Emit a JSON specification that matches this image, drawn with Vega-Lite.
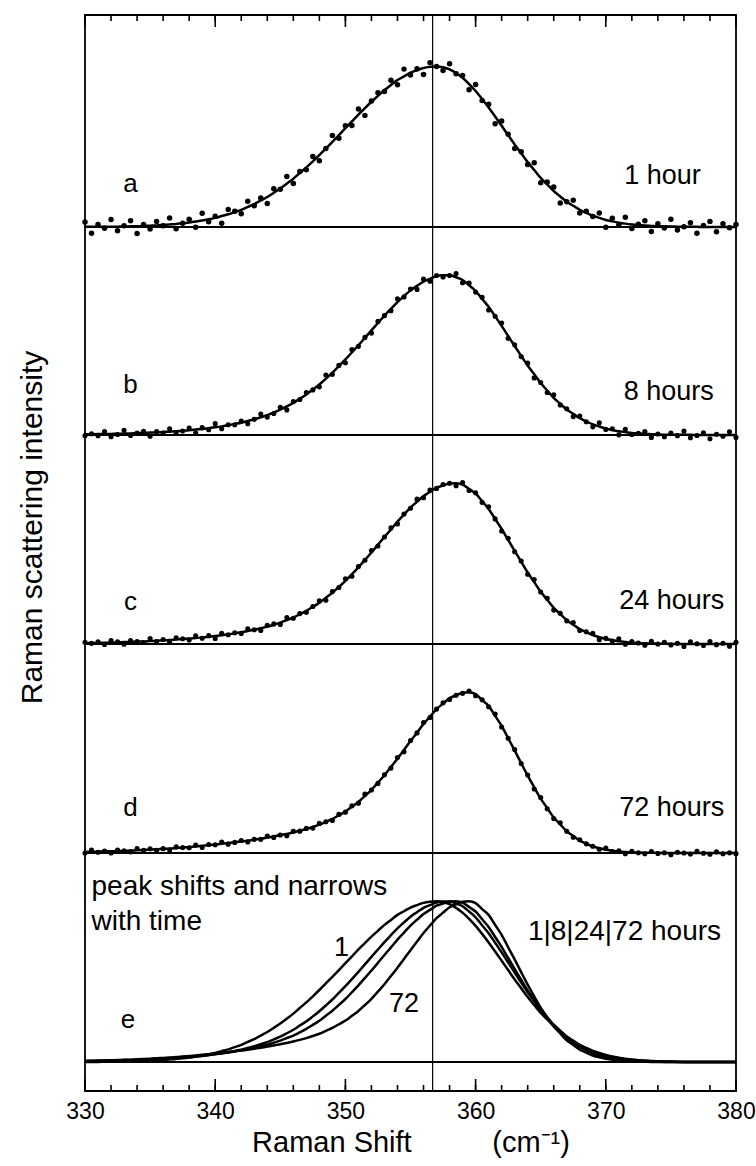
{
"$schema": "https://vega.github.io/schema/vega-lite/v6.json",
"background": "white",
"padding": {"left": 16, "top": 13, "right": 0, "bottom": 0},
"autosize": {"type": "pad"},
"config": {"font": "Liberation Sans", "view": {"stroke": "black", "strokeWidth": 1.8}, "text": {"color": "black", "font": "Liberation Sans"}},
"spacing": 0,
"bounds": "flush",
"datasets": {
"mn": [{"v":330},{"v":332},{"v":334},{"v":336},{"v":338},{"v":340},{"v":342},{"v":344},{"v":346},{"v":348},{"v":350},{"v":352},{"v":354},{"v":356},{"v":358},{"v":360},{"v":362},{"v":364},{"v":366},{"v":368},{"v":370},{"v":372},{"v":374},{"v":376},{"v":378},{"v":380}],
"mj": [{"v":330},{"v":340},{"v":350},{"v":360},{"v":370},{"v":380}],
"s": [
{"x":330,"fa":0.001,"fb":0.004,"fc":0.006,"fd":0.007,"a":0.031,"b":-0.004,"c":0.011,"d":0},
{"x":330.5,"fa":0.001,"fb":0.005,"fc":0.006,"fd":0.008,"a":-0.039,"b":0.008,"c":0.004,"d":0.018},
{"x":331,"fa":0.001,"fb":0.006,"fc":0.007,"fd":0.009,"a":0.016,"b":-0.004,"c":0.014,"d":0.005},
{"x":331.5,"fa":0.002,"fb":0.006,"fc":0.008,"fd":0.010,"a":-0.008,"b":0.021,"c":-0.003,"d":0.012},
{"x":332,"fa":0.002,"fb":0.007,"fc":0.009,"fd":0.011,"a":0.047,"b":-0.011,"c":0.022,"d":0},
{"x":332.5,"fa":0.002,"fb":0.008,"fc":0.010,"fd":0.012,"a":-0.023,"b":0.003,"c":0.014,"d":0.018},
{"x":333,"fa":0.003,"fb":0.009,"fc":0.012,"fd":0.014,"a":0.008,"b":0.029,"c":-0.002,"d":0.013},
{"x":333.5,"fa":0.004,"fb":0.010,"fc":0.013,"fd":0.015,"a":0.039,"b":-0.003,"c":0.022,"d":0.007},
{"x":334,"fa":0.005,"fb":0.012,"fc":0.015,"fd":0.017,"a":-0.040,"b":0.012,"c":0.015,"d":0.028},
{"x":334.5,"fa":0.006,"fb":0.013,"fc":0.016,"fd":0.019,"a":0.016,"b":0.023,"c":0.009,"d":0.017},
{"x":335,"fa":0.008,"fb":0.015,"fc":0.018,"fd":0.021,"a":-0.012,"b":-0.008,"c":0.034,"d":0.026},
{"x":335.5,"fa":0.010,"fb":0.017,"fc":0.020,"fd":0.023,"a":0.035,"b":0.022,"c":0.016,"d":0.017},
{"x":336,"fa":0.013,"fb":0.019,"fc":0.023,"fd":0.026,"a":0.008,"b":0.012,"c":0.028,"d":0.027},
{"x":336.5,"fa":0.016,"fb":0.021,"fc":0.025,"fd":0.028,"a":0.056,"b":0.039,"c":0.012,"d":0.018},
{"x":337,"fa":0.019,"fb":0.024,"fc":0.028,"fd":0.031,"a":-0.011,"b":0.009,"c":0.039,"d":0.038},
{"x":337.5,"fa":0.023,"fb":0.027,"fc":0.031,"fd":0.034,"a":0.023,"b":0.025,"c":0.033,"d":0.034},
{"x":338,"fa":0.028,"fb":0.030,"fc":0.034,"fd":0.038,"a":0.048,"b":0.043,"c":0.025,"d":0.033},
{"x":338.5,"fa":0.034,"fb":0.034,"fc":0.037,"fd":0.041,"a":-0.001,"b":0.014,"c":0.051,"d":0.049},
{"x":339,"fa":0.040,"fb":0.038,"fc":0.041,"fd":0.045,"a":0.085,"b":0.046,"c":0.036,"d":0.034},
{"x":339.5,"fa":0.048,"fb":0.043,"fc":0.045,"fd":0.049,"a":0.033,"b":0.033,"c":0.052,"d":0.053},
{"x":340,"fa":0.057,"fb":0.048,"fc":0.050,"fd":0.053,"a":0.067,"b":0.071,"c":0.034,"d":0.051},
{"x":340.5,"fa":0.068,"fb":0.054,"fc":0.055,"fd":0.057,"a":0.023,"b":0.039,"c":0.066,"d":0.068},
{"x":341,"fa":0.079,"fb":0.061,"fc":0.060,"fd":0.062,"a":0.109,"b":0.064,"c":0.058,"d":0.055},
{"x":341.5,"fa":0.093,"fb":0.069,"fc":0.066,"fd":0.067,"a":0.098,"b":0.064,"c":0.070,"d":0.066},
{"x":342,"fa":0.107,"fb":0.077,"fc":0.073,"fd":0.072,"a":0.082,"b":0.087,"c":0.066,"d":0.078},
{"x":342.5,"fa":0.125,"fb":0.087,"fc":0.081,"fd":0.077,"a":0.160,"b":0.070,"c":0.094,"d":0.069},
{"x":343,"fa":0.143,"fb":0.098,"fc":0.089,"fd":0.083,"a":0.133,"b":0.098,"c":0.089,"d":0.085},
{"x":343.5,"fa":0.165,"fb":0.111,"fc":0.098,"fd":0.089,"a":0.180,"b":0.131,"c":0.084,"d":0.085},
{"x":344,"fa":0.187,"fb":0.124,"fc":0.108,"fd":0.096,"a":0.147,"b":0.112,"c":0.117,"d":0.106},
{"x":344.5,"fa":0.213,"fb":0.141,"fc":0.120,"fd":0.103,"a":0.238,"b":0.134,"c":0.125,"d":0.097},
{"x":345,"fa":0.240,"fb":0.158,"fc":0.133,"fd":0.111,"a":0.235,"b":0.173,"c":0.122,"d":0.112},
{"x":345.5,"fa":0.270,"fb":0.179,"fc":0.149,"fd":0.119,"a":0.315,"b":0.157,"c":0.165,"d":0.108},
{"x":346,"fa":0.301,"fb":0.201,"fc":0.165,"fd":0.128,"a":0.271,"b":0.209,"c":0.160,"d":0.135},
{"x":346.5,"fa":0.336,"fb":0.227,"fc":0.185,"fd":0.138,"a":0.346,"b":0.222,"c":0.189,"d":0.136},
{"x":347,"fa":0.371,"fb":0.253,"fc":0.206,"fd":0.149,"a":0.356,"b":0.266,"c":0.197,"d":0.153},
{"x":347.5,"fa":0.409,"fb":0.284,"fc":0.231,"fd":0.162,"a":0.439,"b":0.282,"c":0.233,"d":0.155},
{"x":348,"fa":0.448,"fb":0.316,"fc":0.257,"fd":0.176,"a":0.413,"b":0.301,"c":0.268,"d":0.184},
{"x":348.5,"fa":0.489,"fb":0.352,"fc":0.288,"fd":0.194,"a":0.489,"b":0.375,"c":0.272,"d":0.194},
{"x":349,"fa":0.530,"fb":0.389,"fc":0.319,"fd":0.212,"a":0.570,"b":0.379,"c":0.326,"d":0.202},
{"x":349.5,"fa":0.572,"fb":0.430,"fc":0.355,"fd":0.235,"a":0.552,"b":0.435,"c":0.351,"d":0.240},
{"x":350,"fa":0.615,"fb":0.472,"fc":0.392,"fd":0.258,"a":0.630,"b":0.452,"c":0.406,"d":0.254},
{"x":350.5,"fa":0.657,"fb":0.516,"fc":0.434,"fd":0.288,"a":0.632,"b":0.534,"c":0.421,"d":0.294},
{"x":351,"fa":0.700,"fb":0.561,"fc":0.477,"fd":0.318,"a":0.735,"b":0.554,"c":0.482,"d":0.310},
{"x":351.5,"fa":0.740,"fb":0.607,"fc":0.523,"fd":0.355,"a":0.695,"b":0.610,"c":0.521,"d":0.366},
{"x":352,"fa":0.780,"fb":0.654,"fc":0.569,"fd":0.393,"a":0.785,"b":0.637,"c":0.582,"d":0.392},
{"x":352.5,"fa":0.816,"fb":0.700,"fc":0.617,"fd":0.438,"a":0.836,"b":0.710,"c":0.610,"d":0.433},
{"x":353,"fa":0.853,"fb":0.746,"fc":0.666,"fd":0.484,"a":0.843,"b":0.746,"c":0.666,"d":0.486},
{"x":353.5,"fa":0.884,"fb":0.789,"fc":0.713,"fd":0.535,"a":0.914,"b":0.777,"c":0.722,"d":0.528},
{"x":354,"fa":0.915,"fb":0.831,"fc":0.761,"fd":0.587,"a":0.885,"b":0.851,"c":0.747,"d":0.594},
{"x":354.5,"fa":0.938,"fb":0.868,"fc":0.805,"fd":0.641,"a":0.983,"b":0.863,"c":0.809,"d":0.630},
{"x":355,"fa":0.961,"fb":0.904,"fc":0.849,"fd":0.696,"a":0.946,"b":0.912,"c":0.844,"d":0.700},
{"x":355.5,"fa":0.976,"fb":0.932,"fc":0.885,"fd":0.749,"a":0.986,"b":0.910,"c":0.901,"d":0.747},
{"x":356,"fa":0.990,"fb":0.959,"fc":0.921,"fd":0.802,"a":0.950,"b":0.974,"c":0.910,"d":0.812},
{"x":356.5,"fa":0.997,"fb":0.976,"fc":0.946,"fd":0.849,"a":1.022,"b":0.961,"c":0.957,"d":0.843},
{"x":357,"fa":1.000,"fb":0.992,"fc":0.972,"fd":0.895,"a":1.000,"b":0.997,"c":0.968,"d":0.895},
{"x":357.5,"fa":0.995,"fb":0.998,"fc":0.985,"fd":0.929,"a":0.975,"b":0.988,"c":0.992,"d":0.934},
{"x":358,"fa":0.982,"fb":0.999,"fc":0.998,"fd":0.963,"a":1.017,"b":0.997,"c":1.000,"d":0.955},
{"x":358.5,"fa":0.959,"fb":0.986,"fc":1.000,"fd":0.980,"a":0.954,"b":1.009,"c":0.984,"d":0.981},
{"x":359,"fa":0.929,"fb":0.969,"fc":0.991,"fd":0.997,"a":0.944,"b":0.952,"c":1.004,"d":0.993},
{"x":359.5,"fa":0.890,"fb":0.936,"fc":0.964,"fd":1.000,"a":0.855,"b":0.949,"c":0.955,"d":1.008},
{"x":360,"fa":0.847,"fb":0.900,"fc":0.936,"fd":0.988,"a":0.887,"b":0.893,"c":0.941,"d":0.978},
{"x":360.5,"fa":0.797,"fb":0.851,"fc":0.888,"fd":0.951,"a":0.787,"b":0.861,"c":0.881,"d":0.953},
{"x":361,"fa":0.744,"fb":0.801,"fc":0.840,"fd":0.915,"a":0.764,"b":0.781,"c":0.854,"d":0.910},
{"x":361.5,"fa":0.688,"fb":0.742,"fc":0.778,"fd":0.853,"a":0.643,"b":0.742,"c":0.778,"d":0.864},
{"x":362,"fa":0.630,"fb":0.682,"fc":0.716,"fd":0.791,"a":0.660,"b":0.700,"c":0.703,"d":0.784},
{"x":362.5,"fa":0.572,"fb":0.619,"fc":0.647,"fd":0.714,"a":0.577,"b":0.604,"c":0.658,"d":0.713},
{"x":363,"fa":0.514,"fb":0.556,"fc":0.579,"fd":0.638,"a":0.489,"b":0.564,"c":0.574,"d":0.644},
{"x":363.5,"fa":0.459,"fb":0.495,"fc":0.512,"fd":0.559,"a":0.469,"b":0.490,"c":0.516,"d":0.557},
{"x":364,"fa":0.404,"fb":0.434,"fc":0.445,"fd":0.481,"a":0.389,"b":0.449,"c":0.434,"d":0.485},
{"x":364.5,"fa":0.355,"fb":0.379,"fc":0.385,"fd":0.409,"a":0.400,"b":0.357,"c":0.401,"d":0.398},
{"x":365,"fa":0.306,"fb":0.325,"fc":0.325,"fd":0.338,"a":0.276,"b":0.328,"c":0.323,"d":0.345},
{"x":365.5,"fa":0.265,"fb":0.278,"fc":0.275,"fd":0.279,"a":0.280,"b":0.266,"c":0.284,"d":0.275},
{"x":366,"fa":0.224,"fb":0.232,"fc":0.225,"fd":0.221,"a":0.249,"b":0.252,"c":0.211,"d":0.215},
{"x":366.5,"fa":0.190,"fb":0.195,"fc":0.186,"fd":0.178,"a":0.150,"b":0.188,"c":0.191,"d":0.188},
{"x":367,"fa":0.157,"fb":0.159,"fc":0.148,"fd":0.135,"a":0.157,"b":0.164,"c":0.144,"d":0.135},
{"x":367.5,"fa":0.132,"fb":0.132,"fc":0.120,"fd":0.106,"a":0.167,"b":0.115,"c":0.133,"d":0.098},
{"x":368,"fa":0.107,"fb":0.105,"fc":0.093,"fd":0.077,"a":0.087,"b":0.118,"c":0.084,"d":0.082},
{"x":368.5,"fa":0.088,"fb":0.085,"fc":0.074,"fd":0.059,"a":0.098,"b":0.083,"c":0.076,"d":0.057},
{"x":369,"fa":0.070,"fb":0.066,"fc":0.055,"fd":0.041,"a":0.065,"b":0.051,"c":0.066,"d":0.042},
{"x":369.5,"fa":0.057,"fb":0.053,"fc":0.043,"fd":0.030,"a":0.087,"b":0.076,"c":0.027,"d":0.023},
{"x":370,"fa":0.044,"fb":0.040,"fc":0.031,"fd":0.020,"a":-0.001,"b":0.035,"c":0.035,"d":0.031},
{"x":370.5,"fa":0.035,"fb":0.031,"fc":0.024,"fd":0.014,"a":0.055,"b":0.039,"c":0.019,"d":0.009},
{"x":371,"fa":0.027,"fb":0.023,"fc":0.017,"fd":0.009,"a":0.012,"b":0.001,"c":0.033,"d":0.013},
{"x":371.5,"fa":0.021,"fb":0.018,"fc":0.012,"fd":0.006,"a":0.061,"b":0.036,"c":-0.001,"d":-0.004},
{"x":372,"fa":0.016,"fb":0.013,"fc":0.008,"fd":0.004,"a":-0.009,"b":0.003,"c":0.015,"d":0.010},
{"x":372.5,"fa":0.012,"fb":0.010,"fc":0.006,"fd":0.003,"a":0.017,"b":0.010,"c":0.006,"d":0.002},
{"x":373,"fa":0.009,"fb":0.007,"fc":0.004,"fd":0.002,"a":0.039,"b":0.022,"c":-0.007,"d":-0.005},
{"x":373.5,"fa":0.007,"fb":0.005,"fc":0.003,"fd":0.001,"a":-0.028,"b":-0.015,"c":0.017,"d":0.009},
{"x":374,"fa":0.005,"fb":0.003,"fc":0.002,"fd":0.001,"a":0.020,"b":0.006,"c":0,"d":-0.003},
{"x":374.5,"fa":0.004,"fb":0.002,"fc":0.001,"fd":0,"a":-0.006,"b":-0.011,"c":0.010,"d":0.002},
{"x":375,"fa":0.003,"fb":0.002,"fc":0.001,"fd":0,"a":0.048,"b":0.012,"c":-0.006,"d":-0.011},
{"x":375.5,"fa":0.002,"fb":0.001,"fc":0,"fd":0,"a":-0.018,"b":-0.004,"c":0.004,"d":0.005},
{"x":376,"fa":0.001,"fb":0.001,"fc":0,"fd":0,"a":0.001,"b":0.024,"c":-0.016,"d":0},
{"x":376.5,"fa":0.001,"fb":0.001,"fc":0,"fd":0,"a":0.026,"b":-0.017,"c":0.013,"d":-0.006},
{"x":377,"fa":0.001,"fb":0,"fc":0,"fd":0,"a":-0.039,"b":-0.003,"c":0.002,"d":0.010},
{"x":377.5,"fa":0,"fb":0,"fc":0,"fd":0,"a":0.010,"b":0.013,"c":-0.009,"d":-0.002},
{"x":378,"fa":0,"fb":0,"fc":0,"fd":0,"a":0.035,"b":-0.023,"c":0.016,"d":-0.008},
{"x":378.5,"fa":0,"fb":0,"fc":0,"fd":0,"a":-0.030,"b":0.005,"c":-0.004,"d":0.007},
{"x":379,"fa":0,"fb":0,"fc":0,"fd":0,"a":0.020,"b":-0.008,"c":0.005,"d":-0.005},
{"x":379.5,"fa":0,"fb":0,"fc":0,"fd":0,"a":-0.005,"b":0.020,"c":-0.014,"d":0.001},
{"x":380,"fa":0,"fb":0,"fc":0,"fd":0,"a":0.015,"b":-0.015,"c":0.011,"d":-0.004}
]},
"vconcat": [
{
 "width": 651, "height": 212,
 "resolve": {"axis": {"x": "independent", "y": "independent"}},
 "layer": [
  {"data": {"values": [{}]}, "mark": {"type": "rule", "color": "black", "strokeWidth": 1.2}, "encoding": {"x": {"datum": 356.7, "type": "quantitative", "axis": null}}},
  {"data": {"name": "mn"}, "mark": {"type": "rule", "color": "black", "strokeWidth": 1.6}, "encoding": {"x": {"field": "v", "type": "quantitative", "axis": null}, "y": {"datum": 1.32, "type": "quantitative", "axis": null}, "y2": {"datum": 1.2826}}},
  {"data": {"name": "mj"}, "mark": {"type": "rule", "color": "black", "strokeWidth": 1.6}, "encoding": {"x": {"field": "v", "type": "quantitative", "axis": null}, "y": {"datum": 1.32, "type": "quantitative", "axis": null}, "y2": {"datum": 1.2453}}},
  {"data": {"name": "s"}, "mark": {"type": "line", "color": "black", "strokeWidth": 2.5, "interpolate": "monotone"},
   "encoding": {
    "x": {"field": "x", "type": "quantitative", "scale": {"domain": [330, 380], "nice": false, "zero": false}, "axis": null},
    "y": {"field": "fa", "type": "quantitative", "scale": {"domain": [0, 1.32], "nice": false, "zero": false}, "axis": null}}},
  {"data": {"name": "s"}, "mark": {"type": "point", "filled": true, "color": "black", "size": 30, "opacity": 1},
   "encoding": {"x": {"field": "x", "type": "quantitative", "axis": null}, "y": {"field": "a", "type": "quantitative", "axis": null}}},
  {"data": {"values": [{}]}, "mark": {"type": "text", "text": "a", "fontSize": 26, "align": "center", "baseline": "middle"}, "encoding": {"x": {"datum": 333.5, "type": "quantitative", "axis": null}, "y": {"datum": 0.27, "type": "quantitative", "axis": null}}},
  {"data": {"values": [{}]}, "mark": {"type": "text", "text": "1 hour", "fontSize": 27, "align": "right", "baseline": "middle"}, "encoding": {"x": {"datum": 377.3, "type": "quantitative", "axis": null}, "y": {"datum": 0.32, "type": "quantitative", "axis": null}}}
 ]
},
{
 "width": 651, "height": 208,
 "resolve": {"axis": {"x": "independent", "y": "independent"}},
 "layer": [
  {"data": {"values": [{}]}, "mark": {"type": "rule", "color": "black", "strokeWidth": 1.2}, "encoding": {"x": {"datum": 356.7, "type": "quantitative", "axis": null}}},
  {"data": {"name": "s"}, "mark": {"type": "line", "color": "black", "strokeWidth": 2.5, "interpolate": "monotone"},
   "encoding": {
    "x": {"field": "x", "type": "quantitative", "scale": {"domain": [330, 380], "nice": false, "zero": false}, "axis": null},
    "y": {"field": "fb", "type": "quantitative", "scale": {"domain": [0, 1.3], "nice": false, "zero": false}, "axis": null}}},
  {"data": {"name": "s"}, "mark": {"type": "point", "filled": true, "color": "black", "size": 26, "opacity": 1},
   "encoding": {"x": {"field": "x", "type": "quantitative", "axis": null}, "y": {"field": "b", "type": "quantitative", "axis": null}}},
  {"data": {"values": [{}]}, "mark": {"type": "text", "text": "b", "fontSize": 26, "align": "center", "baseline": "middle"}, "encoding": {"x": {"datum": 333.5, "type": "quantitative", "axis": null}, "y": {"datum": 0.31, "type": "quantitative", "axis": null}}},
  {"data": {"values": [{}]}, "mark": {"type": "text", "text": "8 hours", "fontSize": 27, "align": "right", "baseline": "middle"}, "encoding": {"x": {"datum": 378.3, "type": "quantitative", "axis": null}, "y": {"datum": 0.27, "type": "quantitative", "axis": null}}}
 ]
},
{
 "width": 651, "height": 209,
 "resolve": {"axis": {"x": "independent", "y": "independent"}},
 "layer": [
  {"data": {"values": [{}]}, "mark": {"type": "rule", "color": "black", "strokeWidth": 1.2}, "encoding": {"x": {"datum": 356.7, "type": "quantitative", "axis": null}}},
  {"data": {"name": "s"}, "mark": {"type": "line", "color": "black", "strokeWidth": 2.5, "interpolate": "monotone"},
   "encoding": {
    "x": {"field": "x", "type": "quantitative", "scale": {"domain": [330, 380], "nice": false, "zero": false}, "axis": null},
    "y": {"field": "fc", "type": "quantitative", "scale": {"domain": [0, 1.3], "nice": false, "zero": false},
      "axis": {"orient": "left", "title": "Raman scattering intensity", "ticks": false, "labels": false, "domain": false, "grid": false, "titleFontSize": 30, "titleFontWeight": "normal", "titleColor": "black", "titlePadding": 38, "titleY": 92}}}},
  {"data": {"name": "s"}, "mark": {"type": "point", "filled": true, "color": "black", "size": 26, "opacity": 1},
   "encoding": {"x": {"field": "x", "type": "quantitative", "axis": null}, "y": {"field": "c", "type": "quantitative", "axis": null}}},
  {"data": {"values": [{}]}, "mark": {"type": "text", "text": "c", "fontSize": 26, "align": "center", "baseline": "middle"}, "encoding": {"x": {"datum": 333.5, "type": "quantitative", "axis": null}, "y": {"datum": 0.26, "type": "quantitative", "axis": null}}},
  {"data": {"values": [{}]}, "mark": {"type": "text", "text": "24 hours", "fontSize": 27, "align": "right", "baseline": "middle"}, "encoding": {"x": {"datum": 379.1, "type": "quantitative", "axis": null}, "y": {"datum": 0.27, "type": "quantitative", "axis": null}}}
 ]
},
{
 "width": 651, "height": 209,
 "resolve": {"axis": {"x": "independent", "y": "independent"}},
 "layer": [
  {"data": {"values": [{}]}, "mark": {"type": "rule", "color": "black", "strokeWidth": 1.2}, "encoding": {"x": {"datum": 356.7, "type": "quantitative", "axis": null}}},
  {"data": {"name": "s"}, "mark": {"type": "line", "color": "black", "strokeWidth": 2.5, "interpolate": "monotone"},
   "encoding": {
    "x": {"field": "x", "type": "quantitative", "scale": {"domain": [330, 380], "nice": false, "zero": false}, "axis": null},
    "y": {"field": "fd", "type": "quantitative", "scale": {"domain": [0, 1.3], "nice": false, "zero": false}, "axis": null}}},
  {"data": {"name": "s"}, "mark": {"type": "point", "filled": true, "color": "black", "size": 26, "opacity": 1},
   "encoding": {"x": {"field": "x", "type": "quantitative", "axis": null}, "y": {"field": "d", "type": "quantitative", "axis": null}}},
  {"data": {"values": [{}]}, "mark": {"type": "text", "text": "d", "fontSize": 26, "align": "center", "baseline": "middle"}, "encoding": {"x": {"datum": 333.5, "type": "quantitative", "axis": null}, "y": {"datum": 0.28, "type": "quantitative", "axis": null}}},
  {"data": {"values": [{}]}, "mark": {"type": "text", "text": "72 hours", "fontSize": 27, "align": "right", "baseline": "middle"}, "encoding": {"x": {"datum": 379.1, "type": "quantitative", "axis": null}, "y": {"datum": 0.28, "type": "quantitative", "axis": null}}}
 ]
},
{
 "width": 651, "height": 238,
 "resolve": {"axis": {"x": "independent", "y": "independent"}},
 "layer": [
  {"data": {"values": [{}]}, "mark": {"type": "rule", "color": "black", "strokeWidth": 1.2}, "encoding": {"x": {"datum": 356.7, "type": "quantitative", "axis": null}}},
  {"data": {"values": [{}]}, "mark": {"type": "rule", "color": "black", "strokeWidth": 2}, "encoding": {"y": {"datum": 0, "type": "quantitative", "axis": null}}},
  {"data": {"name": "mn"}, "mark": {"type": "rule", "color": "black", "strokeWidth": 1.6}, "encoding": {"x": {"field": "v", "type": "quantitative", "axis": null}, "y": {"datum": -0.18, "type": "quantitative", "axis": null}, "y2": {"datum": -0.1427}}},
  {"data": {"name": "mj"}, "mark": {"type": "rule", "color": "black", "strokeWidth": 1.6}, "encoding": {"x": {"field": "v", "type": "quantitative", "axis": null}, "y": {"datum": -0.18, "type": "quantitative", "axis": null}, "y2": {"datum": -0.1054}}},
  {"data": {"name": "s"}, "mark": {"type": "line", "color": "black", "strokeWidth": 2.5, "interpolate": "monotone"},
   "encoding": {
    "x": {"field": "x", "type": "quantitative", "scale": {"domain": [330, 380], "nice": false, "zero": false},
      "axis": {"orient": "bottom", "values": [330,340,350,360,370,380], "ticks": false, "domain": false, "grid": false, "labelFlush": false, "labelFontSize": 23, "labelColor": "black", "labelPadding": 9, "labelOverlap": false, "title": "Raman Shift\u00a0\u00a0\u00a0\u00a0\u00a0\u00a0\u00a0\u00a0\u00a0\u00a0(cm⁻¹)", "titleFontSize": 29, "titleFontWeight": "normal", "titleColor": "black", "titlePadding": 5}},
    "y": {"field": "fa", "type": "quantitative", "scale": {"domain": [-0.18, 1.3], "nice": false, "zero": false}, "axis": null}}},
  {"data": {"name": "s"}, "mark": {"type": "line", "color": "black", "strokeWidth": 2.5, "interpolate": "monotone"},
   "encoding": {"x": {"field": "x", "type": "quantitative", "axis": null}, "y": {"field": "fb", "type": "quantitative", "axis": null}}},
  {"data": {"name": "s"}, "mark": {"type": "line", "color": "black", "strokeWidth": 2.5, "interpolate": "monotone"},
   "encoding": {"x": {"field": "x", "type": "quantitative", "axis": null}, "y": {"field": "fc", "type": "quantitative", "axis": null}}},
  {"data": {"name": "s"}, "mark": {"type": "line", "color": "black", "strokeWidth": 2.5, "interpolate": "monotone"},
   "encoding": {"x": {"field": "x", "type": "quantitative", "axis": null}, "y": {"field": "fd", "type": "quantitative", "axis": null}}},
  {"data": {"values": [{}]}, "mark": {"type": "text", "text": "e", "fontSize": 26, "align": "center", "baseline": "middle"}, "encoding": {"x": {"datum": 333.3, "type": "quantitative", "axis": null}, "y": {"datum": 0.26, "type": "quantitative", "axis": null}}},
  {"data": {"values": [{}]}, "mark": {"type": "text", "text": "peak shifts and narrows", "fontSize": 28, "align": "left", "baseline": "alphabetic"}, "encoding": {"x": {"datum": 330.5, "type": "quantitative", "axis": null}, "y": {"datum": 1.04, "type": "quantitative", "axis": null}}},
  {"data": {"values": [{}]}, "mark": {"type": "text", "text": "with time", "fontSize": 28, "align": "left", "baseline": "alphabetic"}, "encoding": {"x": {"datum": 330.5, "type": "quantitative", "axis": null}, "y": {"datum": 0.82, "type": "quantitative", "axis": null}}},
  {"data": {"values": [{}]}, "mark": {"type": "text", "text": "1", "fontSize": 27, "align": "center", "baseline": "middle"}, "encoding": {"x": {"datum": 349.7, "type": "quantitative", "axis": null}, "y": {"datum": 0.71, "type": "quantitative", "axis": null}}},
  {"data": {"values": [{}]}, "mark": {"type": "text", "text": "72", "fontSize": 27, "align": "center", "baseline": "middle"}, "encoding": {"x": {"datum": 354.5, "type": "quantitative", "axis": null}, "y": {"datum": 0.36, "type": "quantitative", "axis": null}}},
  {"data": {"values": [{}]}, "mark": {"type": "text", "text": "1|8|24|72 hours", "fontSize": 28, "align": "right", "baseline": "middle"}, "encoding": {"x": {"datum": 378.85, "type": "quantitative", "axis": null}, "y": {"datum": 0.81, "type": "quantitative", "axis": null}}}
 ]
}
]
}
